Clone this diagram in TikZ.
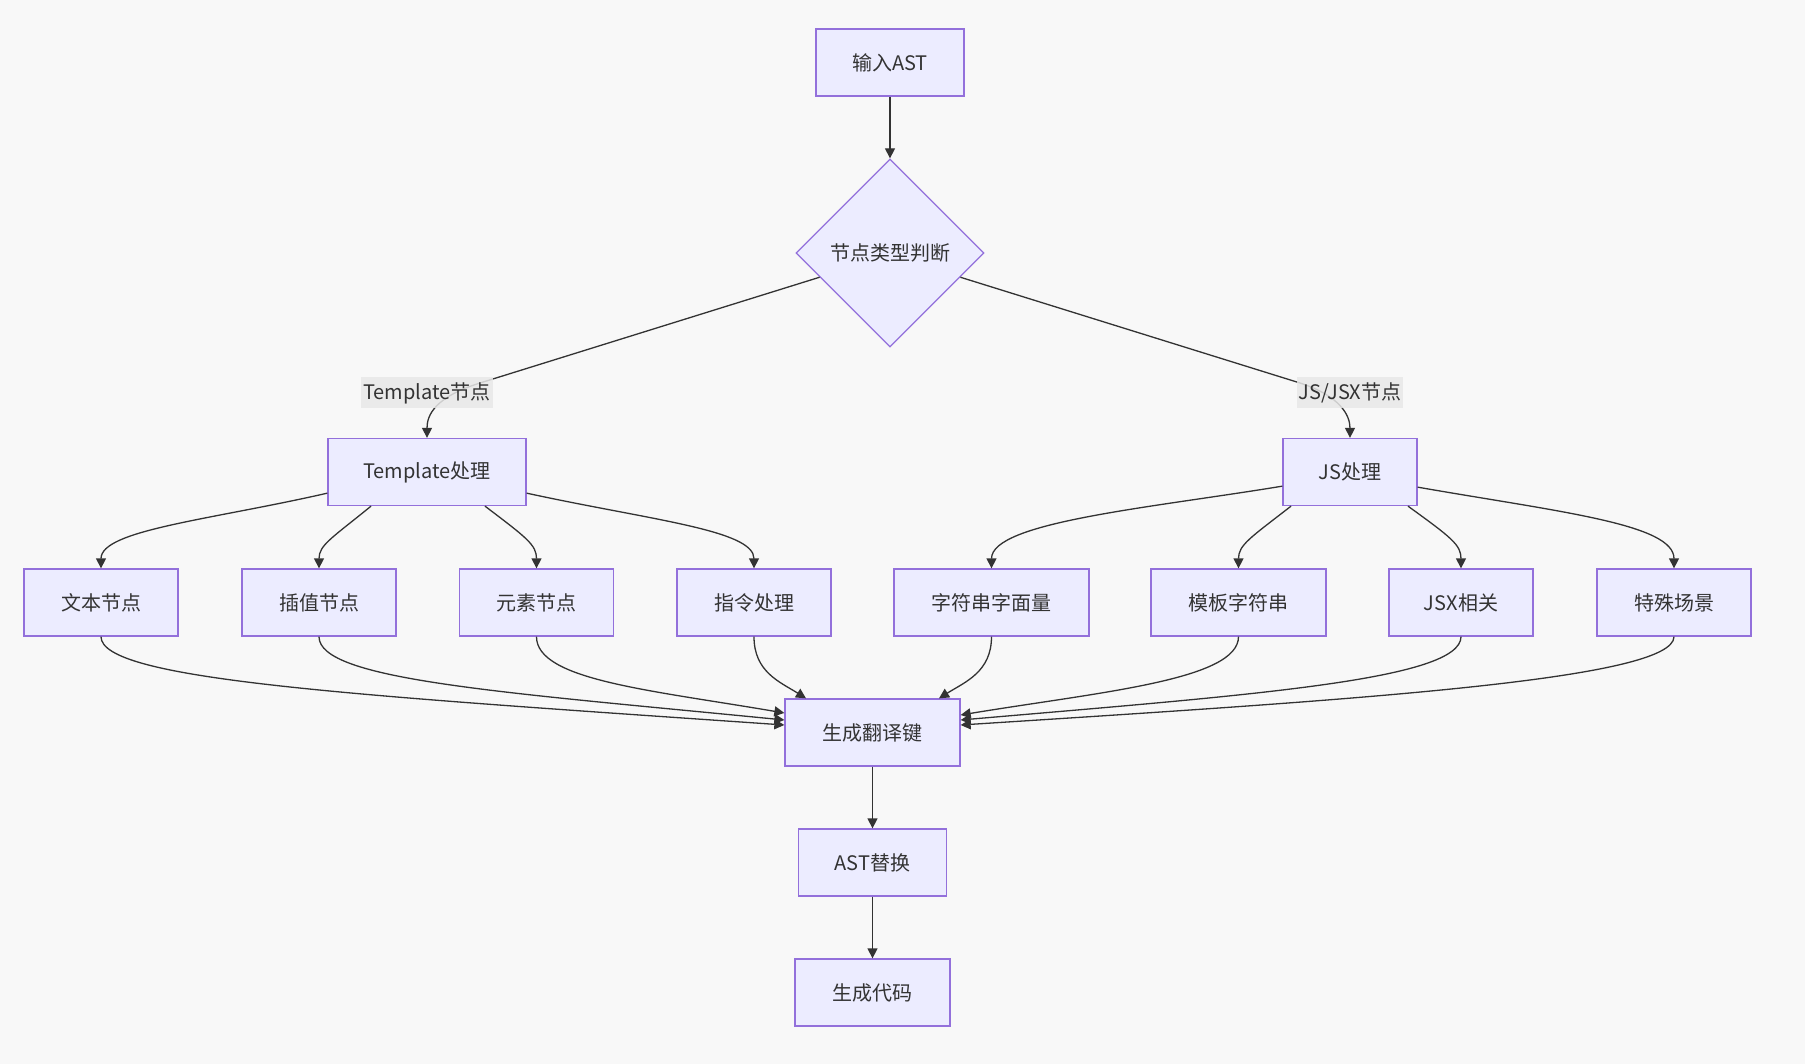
\documentclass[tikz,border=0pt]{standalone}
\usepackage{fontspec}
\setmainfont{Noto Sans CJK SC}
\usetikzlibrary{shapes.geometric,arrows.meta}
\definecolor{bgc}{HTML}{F8F8F8}
\definecolor{nodefill}{HTML}{ECECFF}
\definecolor{nodeline}{HTML}{9370DB}
\definecolor{edgec}{HTML}{333333}
\definecolor{lblbg}{HTML}{E8E8E8}
\begin{document}
\begin{tikzpicture}[x=1pt,y=-1pt,
  every node/.style={font=\fontsize{20}{24}\selectfont, text=edgec},
  box/.style={draw=nodeline, fill=nodefill, line width=1.3pt, rectangle, inner sep=0pt, minimum height=67pt},
  decide/.style={draw=nodeline, fill=nodefill, line width=1.3pt, diamond, aspect=1, inner sep=0pt, minimum width=188pt, minimum height=188pt},
  elabel/.style={fill=lblbg, fill opacity=0.85, text opacity=1, inner sep=2pt, minimum height=31pt},
  conn/.style={draw=edgec, line width=1.3pt, -{Triangle[length=10pt,width=10pt]}}
]
\fill[bgc] (0,0) rectangle (1805,1064);
\useasboundingbox (0,0) rectangle (1805,1064);

\node[box, minimum width=148pt] (in) at (890,62.5) {输入AST};
\node[decide] (d) at (890,253) {节点类型判断};
\node[box, minimum width=198pt] (tp) at (427,472) {Template处理};
\node[box, minimum width=134pt] (js) at (1350,472) {JS处理};

\node[box, minimum width=154pt] (t1) at (101,602.5) {文本节点};
\node[box, minimum width=154pt] (t2) at (319,602.5) {插值节点};
\node[box, minimum width=154pt] (t3) at (536.5,602.5) {元素节点};
\node[box, minimum width=154pt] (t4) at (754,602.5) {指令处理};
\node[box, minimum width=195pt] (j1) at (991.5,602.5) {字符串字面量};
\node[box, minimum width=175pt] (j2) at (1238.5,602.5) {模板字符串};
\node[box, minimum width=144pt] (j3) at (1461,602.5) {JSX相关};
\node[box, minimum width=154pt] (j4) at (1674,602.5) {特殊场景};

\node[box, minimum width=175pt] (gk) at (872.5,732.5) {生成翻译键};
\node[box, minimum width=148pt] (ast) at (872.5,862.5) {AST替换};
\node[box, minimum width=155pt] (code) at (872.5,992.5) {生成代码};

% top
\draw[conn] (in.south) -- (d.north);
\draw[conn] (d.199) -- (480,383) .. controls (435,397) and (427,415) .. (tp.north);
\draw[conn] (d.341) -- (1300,383) .. controls (1340,396) and (1350,415) .. (js.north);
\node[elabel] (lt) at (427,393) {Template节点};
\node[elabel] (lj) at (1350,393) {JS/JSX节点};

% template children
\draw[conn] ([yshift=13pt]tp.south west) .. controls (210,520) and (101,530) .. (t1.north);
\draw[conn] ([xshift=-56pt]tp.south) .. controls (332,538) and (319,545) .. (t2.north);
\draw[conn] ([xshift=58pt]tp.south) .. controls (527,538) and (536.5,545) .. (t3.north);
\draw[conn] ([yshift=13pt]tp.south east) .. controls (650,520) and (754,530) .. (t4.north);

% js children
\draw[conn] ([yshift=20pt]js.south west) .. controls (1150,508) and (991.5,522) .. (j1.north);
\draw[conn] ([xshift=-59pt]js.south) .. controls (1250,538) and (1238.5,545) .. (j2.north);
\draw[conn] ([xshift=58pt]js.south) .. controls (1452,538) and (1461,545) .. (j3.north);
\draw[conn] ([yshift=19pt]js.south east) .. controls (1560,512) and (1674,524) .. (j4.north);

% to generate key
\draw[conn] (t1.south) .. controls (101,680) and (350,695) .. ([yshift=7.5pt]gk.west);
\draw[conn] (t2.south) .. controls (319,680) and (500,692) .. ([yshift=12.5pt]gk.west);
\draw[conn] (t3.south) .. controls (536.5,680) and (650,690) .. ([yshift=19.5pt]gk.west);
\draw[conn] (t4.south) .. controls (754,672) and (780,682) .. ([xshift=-66.5pt]gk.north);
\draw[conn] (j1.south) .. controls (991.5,672) and (965,682) .. ([xshift=66.5pt]gk.north);
\draw[conn] (j2.south) .. controls (1238.5,680) and (1100,692) .. ([yshift=17.5pt]gk.east);
\draw[conn] (j3.south) .. controls (1461,680) and (1250,695) .. ([yshift=12.5pt]gk.east);
\draw[conn] (j4.south) .. controls (1674,680) and (1350,700) .. ([yshift=7.5pt]gk.east);

\draw[conn] (gk.south) -- (ast.north);
\draw[conn] (ast.south) -- (code.north);
\end{tikzpicture}
\end{document}
